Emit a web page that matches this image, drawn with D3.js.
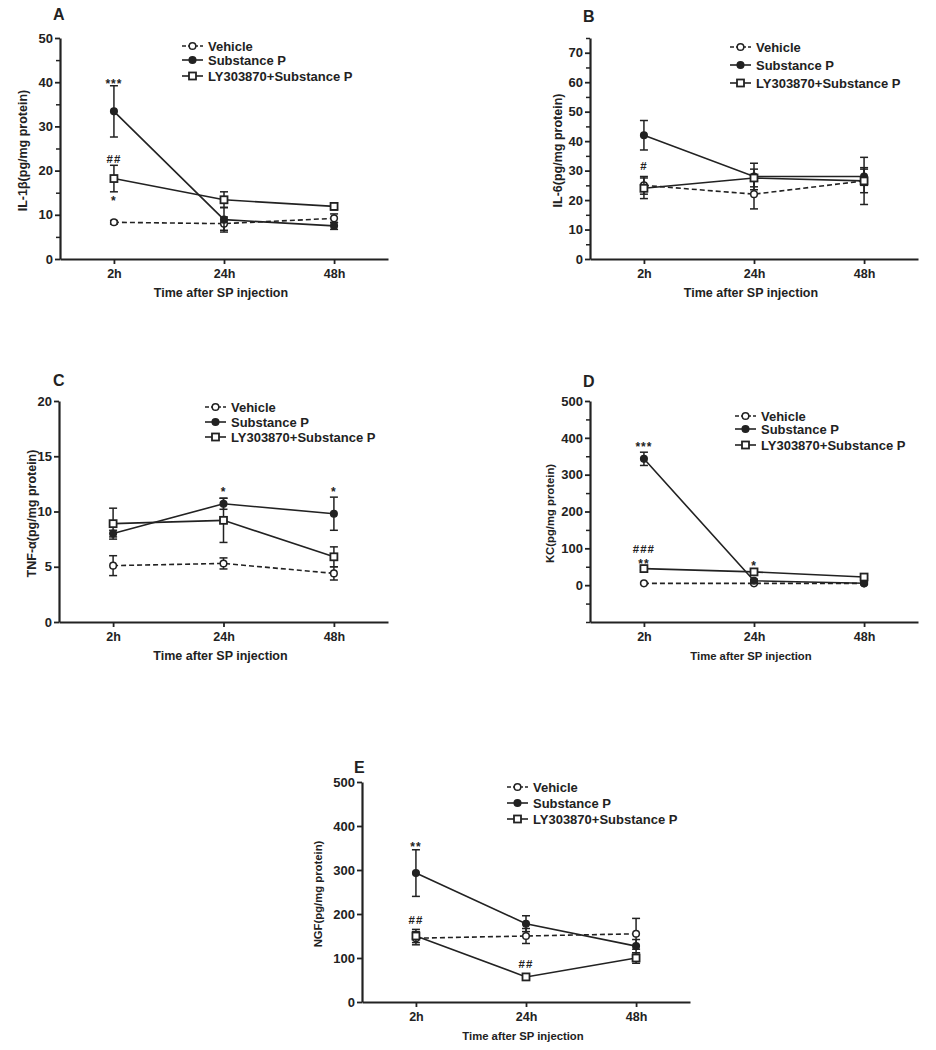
<!DOCTYPE html>
<html><head><meta charset="utf-8">
<script src="https://cdn.jsdelivr.net/npm/d3@7"></script>
<style>
body{margin:0;background:#fff;}
svg{display:block;font-family:"Liberation Sans",Arial,sans-serif;font-weight:bold;}
</style></head>
<body><svg id="chart" width="936" height="1050"></svg>
<script>
// ---- data ----
const times = ["2h", "24h", "48h"];
const seriesNames = ["Vehicle", "Substance P", "LY303870+Substance P"];

const il1bVehicle = [8.3, 8.0, 9.2],  il1bVehicleErr = [0.4, 1.5, 1.0];
const il1bSP      = [33.4, 8.9, 7.5], il1bSPErr      = [5.8, 2.8, 0.8];
const il1bLY      = [18.2, 13.4, 11.9], il1bLYErr    = [3.0, 1.8, 0.8];

const il6Vehicle = [25.0, 22.0, 26.5], il6VehicleErr = [3.0, 5.0, 8.0];
const il6SP      = [42.0, 28.0, 28.0], il6SPErr      = [5.0, 4.5, 3.0];
const il6LY      = [24.0, 27.5, 26.5], il6LYErr      = [3.5, 3.0, 4.0];

const tnfVehicle = [5.1, 5.3, 4.4], tnfVehicleErr = [0.9, 0.5, 0.6];
const tnfSP      = [8.0, 10.7, 9.8], tnfSPErr     = [0.3, 0.5, 1.5];
const tnfLY      = [8.9, 9.2, 5.9], tnfLYErr      = [1.4, 2.0, 0.9];

const kcVehicle = [5, 5, 5],     kcVehicleErr = [2, 2, 2];
const kcSP      = [343, 12, 5],  kcSPErr      = [18, 4, 3];
const kcLY      = [45, 36, 22],  kcLYErr      = [4, 6, 4];

const ngfVehicle = [145, 150, 155], ngfVehicleErr = [15, 17, 35];
const ngfSP      = [293, 178, 127], ngfSPErr      = [53, 18, 15];
const ngfLY      = [150, 57, 100],  ngfLYErr      = [15, 5, 12];

const il1bTicks = [0, 10, 20, 30, 40, 50];
const il6Ticks  = [0, 10, 20, 30, 40, 50, 60, 70];
const tnfTicks  = [0, 5, 10, 15, 20];
const kcTicks   = [0, 100, 200, 300, 400, 500];
const ngfTicks  = [0, 100, 200, 300, 400, 500];

// significance marks: [time, value, text]
const il1bMarks = [["2h", 40.6, "***"], ["2h", 22.6, "##"], ["2h", 14.0, "*"]];
const il6Marks  = [["2h", 31.5, "#"]];
const tnfMarks  = [["24h", 12.1, "*"], ["48h", 12.1, "*"]];
const kcMarks   = [["2h", 386, "***"], ["2h", 99, "###"], ["2h", 68, "**"], ["24h", 63, "*"]];
const ngfMarks  = [["2h", 361, "**"], ["2h", 186, "##"], ["24h", 86, "##"]];

// ---- layout ----
const panels = [
  {letter:"A", ylab:"IL-1\u03b2(pg/mg protein)", domain:[0,50], ticks:il1bTicks, minor:5,
   data:[il1bVehicle, il1bSP, il1bLY], err:[il1bVehicleErr, il1bSPErr, il1bLYErr], marks:il1bMarks,
   left:60, right:388, top:38, bottom:259, letterPos:[53,20], ylabX:23,
   legX:182, legY:[46,60,76], titleSize:12.5},
  {letter:"B", ylab:"IL-6(pg/mg protein)", domain:[0,75], ticks:il6Ticks, minor:5,
   data:[il6Vehicle, il6SP, il6LY], err:[il6VehicleErr, il6SPErr, il6LYErr], marks:il6Marks,
   left:590, right:918, top:38, bottom:259, letterPos:[583,22], ylabX:558,
   legX:730, legY:[47,65,83], titleSize:12.5},
  {letter:"C", ylab:"TNF-\u03b1(pg/mg protein)", domain:[0,20], ticks:tnfTicks, minor:null,
   data:[tnfVehicle, tnfSP, tnfLY], err:[tnfVehicleErr, tnfSPErr, tnfLYErr], marks:tnfMarks,
   left:59, right:388, top:401, bottom:622, letterPos:[53,386], ylabX:32,
   legX:205, legY:[407,422,437], titleSize:12.5},
  {letter:"D", ylab:"KC(pg/mg protein)", domain:[-100,500], ticks:kcTicks, minor:50,
   data:[kcVehicle, kcSP, kcLY], err:[kcVehicleErr, kcSPErr, kcLYErr], marks:kcMarks,
   left:590, right:918, top:401, bottom:622, letterPos:[583,387], ylabX:550,
   legX:735, legY:[416,429,445], titleSize:11.3},
  {letter:"E", ylab:"NGF(pg/mg protein)", domain:[0,500], ticks:ngfTicks, minor:null,
   data:[ngfVehicle, ngfSP, ngfLY], err:[ngfVehicleErr, ngfSPErr, ngfLYErr], marks:ngfMarks,
   left:362, right:690, top:782, bottom:1002, letterPos:[354,773], ylabX:318,
   legX:507, legY:[787,803,819], titleSize:11.3}
];

const ink = "#222";
const styles = [
  {dash:"5,3", shape:"circle", fill:"#fff"},
  {dash:null,  shape:"circle", fill:ink},
  {dash:null,  shape:"square", fill:"#fff"}
];

const svg = d3.select("#chart");

function drawMarker(g, shape, fill, cx, cy) {
  if (shape === "circle") {
    g.append("circle").attr("cx", cx).attr("cy", cy).attr("r", 3.3)
      .attr("fill", fill).attr("stroke", ink).attr("stroke-width", 1.5);
  } else {
    g.append("rect").attr("x", cx - 3.5).attr("y", cy - 3.5).attr("width", 7).attr("height", 7)
      .attr("fill", fill).attr("stroke", ink).attr("stroke-width", 1.8);
  }
}

panels.forEach(p => {
  const g = svg.append("g");
  const x = d3.scalePoint().domain(times).range([p.left, p.right]).padding(0.49);
  const y = d3.scaleLinear().domain(p.domain).range([p.bottom, p.top]);

  // minor ticks
  if (p.minor) {
    const minors = d3.range(p.domain[0], p.domain[1] + 0.001, p.minor).filter(v => p.ticks.indexOf(v) < 0);
    g.append("g").attr("transform", `translate(${p.left},0)`)
      .call(d3.axisLeft(y).tickValues(minors).tickSize(4).tickFormat(""))
      .call(a => a.select(".domain").remove())
      .call(a => a.selectAll("line").attr("stroke", ink).attr("stroke-width", 1.5));
  }
  // y axis
  g.append("g").attr("transform", `translate(${p.left},0)`)
    .call(d3.axisLeft(y).tickValues(p.ticks).tickSize(5).tickPadding(2).tickSizeOuter(0))
    .call(a => a.select(".domain").attr("stroke", ink).attr("stroke-width", 2.2))
    .call(a => a.selectAll(".tick line").attr("stroke", ink).attr("stroke-width", 1.8))
    .call(a => a.selectAll("text").attr("fill", ink).style("font-size", "13px")
      .style("font-family", "Liberation Sans, Arial, sans-serif").style("font-weight", "bold"));
  // x axis
  g.append("g").attr("transform", `translate(0,${p.bottom})`)
    .call(d3.axisBottom(x).tickSize(5).tickPadding(5).tickSizeOuter(0))
    .call(a => a.select(".domain").attr("stroke", ink).attr("stroke-width", 2.2))
    .call(a => a.selectAll(".tick line").attr("stroke", ink).attr("stroke-width", 1.8))
    .call(a => a.selectAll("text").attr("fill", ink).style("font-size", "12.5px")
      .style("font-family", "Liberation Sans, Arial, sans-serif").style("font-weight", "bold"));

  // x title
  g.append("text").attr("x", (p.left + p.right) / 2 - 3).attr("y", p.bottom + 38)
    .attr("text-anchor", "middle").attr("fill", ink).style("font-size", p.titleSize + "px")
    .text("Time after SP injection");
  // y title
  g.append("text").attr("transform", `translate(${p.ylabX},${(p.top + p.bottom) / 2 + 2}) rotate(-90)`)
    .attr("text-anchor", "middle").attr("dominant-baseline", "central").attr("fill", ink)
    .style("font-size", p.titleSize + "px").text(p.ylab);
  // panel letter
  g.append("text").attr("x", p.letterPos[0]).attr("y", p.letterPos[1])
    .attr("fill", ink).style("font-size", "16px").text(p.letter);

  // series
  const line = d3.line().x((d, i) => x(times[i])).y(d => y(d));
  p.data.forEach((vals, si) => {
    const st = styles[si];
    const sg = g.append("g");
    // error bars
    vals.forEach((v, i) => {
      const e = p.err[si][i], cx = x(times[i]);
      sg.append("line").attr("x1", cx).attr("x2", cx).attr("y1", y(v - e)).attr("y2", y(v + e))
        .attr("stroke", ink).attr("stroke-width", 1.5);
      [v - e, v + e].forEach(t => sg.append("line").attr("x1", cx - 4).attr("x2", cx + 4)
        .attr("y1", y(t)).attr("y2", y(t)).attr("stroke", ink).attr("stroke-width", 1.5));
    });
    sg.append("path").datum(vals).attr("d", line).attr("fill", "none")
      .attr("stroke", ink).attr("stroke-width", 1.6).attr("stroke-dasharray", st.dash);
    vals.forEach((v, i) => drawMarker(sg, st.shape, st.fill, x(times[i]), y(v)));
  });

  // significance marks (asterisks sit high in the em box, so drop their baseline more)
  p.marks.forEach(m => {
    const isStar = m[2][0] === "*";
    g.append("text").attr("x", x(m[0])).attr("y", y(m[1]) + (isStar ? 8 : 4))
      .attr("text-anchor", "middle").attr("fill", ink).style("font-size", isStar ? "12px" : "11.5px")
      .style("letter-spacing", "1px").text(m[2]);
  });

  // legend
  seriesNames.forEach((name, si) => {
    const st = styles[si], ly = p.legY[si];
    const lg = g.append("g");
    lg.append("line").attr("x1", p.legX).attr("x2", p.legX + 21).attr("y1", ly).attr("y2", ly)
      .attr("stroke", ink).attr("stroke-width", 1.6).attr("stroke-dasharray", st.dash ? "4,2" : null);
    drawMarker(lg, st.shape, st.fill, p.legX + 10.5, ly);
    lg.append("text").attr("x", p.legX + 26).attr("y", ly).attr("dominant-baseline", "central")
      .attr("fill", ink).style("font-size", "13px").text(name);
  });
});
</script>
</body></html>
